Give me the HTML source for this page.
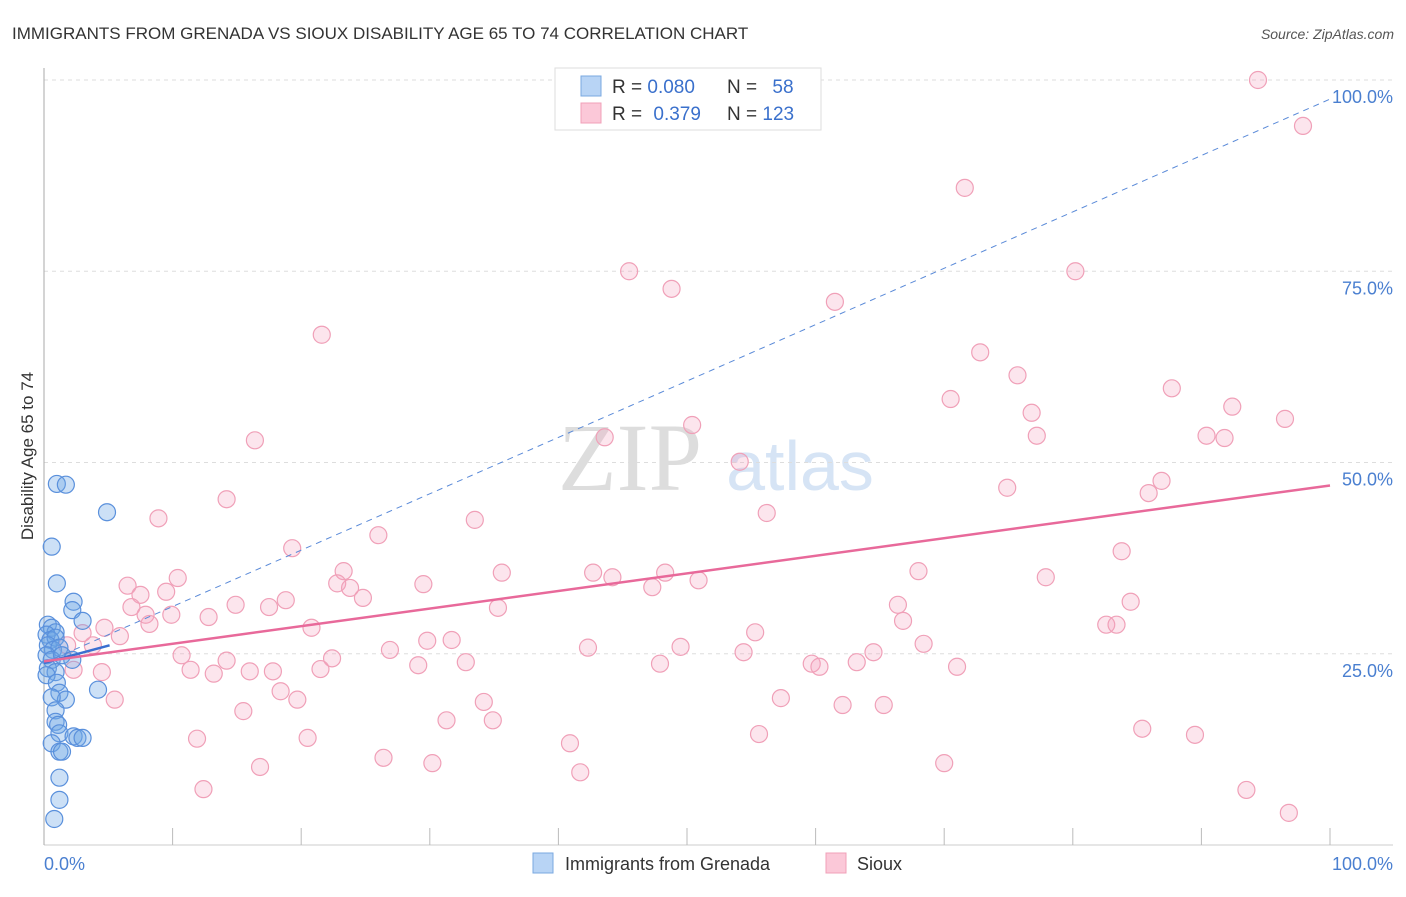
<!DOCTYPE html>
<html><head><meta charset="utf-8"><style>
body{margin:0;background:#fff;font-family:"Liberation Sans",sans-serif}
</style></head><body>
<svg id="chart" width="1406" height="892" xmlns="http://www.w3.org/2000/svg" style="font-family:'Liberation Sans',sans-serif">
<text x="12" y="39" font-size="17" fill="#333">IMMIGRANTS FROM GRENADA VS SIOUX DISABILITY AGE 65 TO 74 CORRELATION CHART</text>
<text x="1394" y="39" font-size="14" fill="#555" text-anchor="end" font-style="italic">Source: ZipAtlas.com</text>
<text x="630" y="490" font-size="96" fill="#ddd" font-family="Liberation Serif" text-anchor="middle">ZIP</text>
<text x="800" y="490" font-size="70" fill="#d6e4f5" text-anchor="middle">atlas</text>
<g id="grid"></g><g id="axes"></g><g id="marks"></g>
<text transform="translate(33,456) rotate(-90)" font-size="17" fill="#333" text-anchor="middle">Disability Age 65 to 74</text>
<text x="44" y="870" font-size="18" fill="#4a7fd0">0.0%</text>
<text x="1393" y="870" font-size="18" fill="#4a7fd0" text-anchor="end">100.0%</text>
<g>
<rect x="555" y="68" width="266" height="62" fill="#fff" stroke="#ddd"/>
<rect x="581" y="76" width="20" height="20" fill="#b8d4f5" stroke="#7aa8e0"/>
<rect x="581" y="103" width="20" height="20" fill="#fbc8d8" stroke="#f0a0b8"/>
<text x="612" y="93" font-size="19" fill="#333">R = <tspan fill="#3a70cc">0.080</tspan></text>
<text x="727" y="93" font-size="19" fill="#333">N = <tspan fill="#3a70cc" dx="10">58</tspan></text>
<text x="612" y="120" font-size="19" fill="#333">R = <tspan fill="#3a70cc" dx="6">0.379</tspan></text>
<text x="727" y="120" font-size="19" fill="#333">N = <tspan fill="#3a70cc">123</tspan></text>
</g>
<g>
<rect x="533" y="853" width="20" height="20" fill="#b8d4f5" stroke="#7aa8e0"/>
<text x="565" y="870" font-size="18" fill="#333">Immigrants from Grenada</text>
<rect x="826" y="853" width="20" height="20" fill="#fbc8d8" stroke="#f0a0b8"/>
<text x="857" y="870" font-size="18" fill="#333">Sioux</text>
</g>
</svg>
<script>
const yTicks=[25,50,75,100];
const yTickLabels=["25.0%","50.0%","75.0%","100.0%"];
const xTicks=[10,20,30,40,50,60,70,80,90,100];
const blueX=[1.0,1.7,4.9,0.6,1.0,2.3,2.2,3.0,0.3,0.6,0.9,0.2,0.5,0.9,0.3,0.7,1.2,0.2,0.6,1.4,2.2,0.3,0.9,0.2,4.2,1.0,1.2,1.7,0.6,0.9,0.9,1.1,1.2,0.6,1.2,1.4,2.3,2.6,3.0,1.2,1.2,0.8];
const blueY=[47.2,47.1,43.5,39,34.2,31.8,30.7,29.3,28.8,28.4,27.8,27.5,26.8,27.1,26.1,25.5,25.8,24.8,24.2,24.8,24.2,23.1,22.6,22.2,20.3,21.2,19.9,19.0,19.3,17.6,16.1,15.7,14.6,13.3,12.2,12.2,14.2,14,14,8.8,5.9,3.4];
const pinkX=[94.4,97.9,71.6,45.5,80.2,48.8,61.5,21.6,72.8,75.7,87.7,70.5,92.4,76.8,96.5,50.4,16.4,43.6,77.2,90.4,91.8,54.1,74.9,86.9,85.9,14.2,56.2,8.9,33.5,26,19.3,83.8,10.4,6.5,23.3,22.8,23.8,24.8,29.5,35.6,42.7,44.2,48.3,50.9,47.3,68,77.9,84.5,9.5,7.5,6.8,7.9,9.9,8.2,14.9,12.8,17.5,18.8,35.3,66.4,66.8,82.6,83.4,4.7,5.9,3.0,3.8,1.8,20.8,29.8,31.7,55.3,49.5,68.4,42.3,26.9,54.4,64.5,10.7,14.2,22.4,29.1,32.8,47.9,59.7,60.3,63.2,71,2.3,4.5,11.4,13.2,16,17.8,21.5,5.5,18.4,19.7,34.2,57.3,15.5,31.3,34.9,62.1,65.3,11.9,20.5,40.9,55.6,85.4,89.5,26.4,30.2,16.8,41.7,70,12.4,93.5,96.8];
const pinkY=[100,94,85.9,75,75,72.7,71,66.7,64.4,61.4,59.7,58.3,57.3,56.5,55.7,54.9,52.9,53.3,53.5,53.5,53.2,50.1,46.7,47.6,46,45.2,43.4,42.7,42.5,40.5,38.8,38.4,34.9,33.9,35.8,34.2,33.6,32.3,34.1,35.6,35.6,35,35.6,34.6,33.7,35.8,35,31.8,33.1,32.7,31.1,30.1,30.1,28.9,31.4,29.8,31.1,32,31,31.4,29.3,28.8,28.8,28.4,27.3,27.7,26.1,26.1,28.4,26.7,26.8,27.8,25.9,26.3,25.8,25.5,25.2,25.2,24.8,24.1,24.4,23.5,23.9,23.7,23.7,23.3,23.9,23.3,22.9,22.6,22.9,22.4,22.7,22.7,23,19,20.1,19,18.7,19.2,17.5,16.3,16.3,18.3,18.3,13.9,14,13.3,14.5,15.2,14.4,11.4,10.7,10.2,9.5,10.7,7.3,7.2,4.2];
const pinkTrend=[24.0,47.0];
const blueTrend=[23.8,97.5];
const blueSolid=[[0,23.8],[5.1,26.1]];
const NS="http://www.w3.org/2000/svg";
const X=v=>44+v*12.86, Y=v=>845-v*7.65;
function mk(t,a,p){const e=document.createElementNS(NS,t);for(const k in a)e.setAttribute(k,a[k]);p.appendChild(e);return e;}
const grid=document.getElementById('grid'),axes=document.getElementById('axes'),marks=document.getElementById('marks');
yTicks.forEach((t,i)=>{
 const l=mk('line',{x1:44,x2:1393,y1:Y(t),y2:Y(t),stroke:'#ddd','stroke-dasharray':'4,4'},grid);
 
 
 const tx=mk('text',{x:1393,y:Y(t)+23,'font-size':18,fill:'#4a7fd0','text-anchor':'end'},grid);
 tx.textContent=yTickLabels[i];
 
 
});
const xa=mk('line',{x1:44,x2:1393,y1:845,y2:845,stroke:'#ccc'},axes);


const ya=mk('line',{x1:44,x2:44,y1:68,y2:845,stroke:'#aaa'},axes);


xTicks.forEach(t=>{const l=mk('line',{x1:X(t),x2:X(t),y1:828,y2:845,stroke:'#bbb'},axes);
 
 });
pinkX.forEach((v,i)=>{const c=mk('circle',{cx:X(v),cy:Y(pinkY[i]),r:8.5,fill:'rgba(245,160,190,0.28)',stroke:'#f0a0b8','stroke-width':1.2},marks);
 
 });
blueX.forEach((v,i)=>{const c=mk('circle',{cx:X(v),cy:Y(blueY[i]),r:8.5,fill:'rgba(110,165,230,0.35)',stroke:'#5a90dc','stroke-width':1.2},marks);
 
 });
const bt=mk('line',{x1:X(0),y1:Y(blueTrend[0]),x2:X(100),y2:Y(blueTrend[1]),stroke:'#5a8ad8','stroke-width':1,'stroke-dasharray':'6,5'},marks);


const bs=mk('line',{x1:X(blueSolid[0][0]),y1:Y(blueSolid[0][1]),x2:X(blueSolid[1][0]),y2:Y(blueSolid[1][1]),stroke:'#3a6fd0','stroke-width':2.5},marks);


const pt=mk('line',{x1:X(0),y1:Y(pinkTrend[0]),x2:X(100),y2:Y(pinkTrend[1]),stroke:'#e8699a','stroke-width':2.5},marks);


</script>
</body></html>
